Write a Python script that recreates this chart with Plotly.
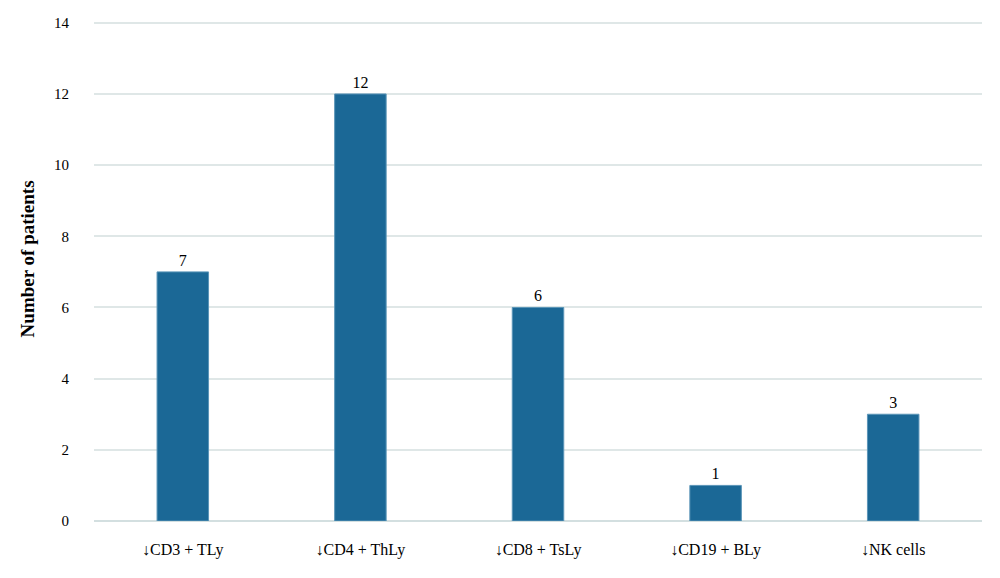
import plotly.graph_objects as go

# data
categories = ["↓CD3 + TLy", "↓CD4 + ThLy", "↓CD8 + TsLy", "↓CD19 + BLy", "↓NK cells"]
patients = [7, 12, 6, 1, 3]
y_ticks = [0, 2, 4, 6, 8, 10, 12, 14]

fig = go.Figure(
    go.Bar(
        x=categories,
        y=patients,
        text=patients,
        textposition="outside",
        marker=dict(color="#1b6896", line=dict(color="#5b95b8", width=1)),
        textfont=dict(family="Liberation Serif", size=16, color="#000000"),
        cliponaxis=False,
    )
)

# page body has an 8px margin, so margins are shifted to compensate
fig.update_layout(
    width=1000,
    height=578,
    paper_bgcolor="white",
    plot_bgcolor="white",
    bargap=0.71,
    showlegend=False,
    margin=dict(l=86, r=26, t=7, b=65),
    font=dict(family="Liberation Serif", size=15, color="#000000"),
    xaxis=dict(
        showgrid=False,
        showline=False,
        ticks="",
        ticklabelstandoff=17,
        tickfont=dict(size=16),
    ),
    yaxis=dict(
        range=[0, 14.05],
        tickvals=y_ticks,
        showgrid=True,
        gridcolor="#dfe7e7",
        gridwidth=2,
        zeroline=True,
        zerolinecolor="#d3dfe0",
        zerolinewidth=2,
        showline=False,
        ticks="",
        ticklabelstandoff=24,
        tickfont=dict(size=15),
    ),
)

# y-axis title placed as annotation (sits a bit above plot centre in the reference)
fig.add_annotation(
    text="<b>Number of patients</b>",
    textangle=-90,
    xref="paper",
    yref="paper",
    x=-0.075,
    y=0.524,
    xanchor="center",
    yanchor="middle",
    showarrow=False,
    font=dict(size=19, color="#000000"),
)

fig.write_html("out.html")
